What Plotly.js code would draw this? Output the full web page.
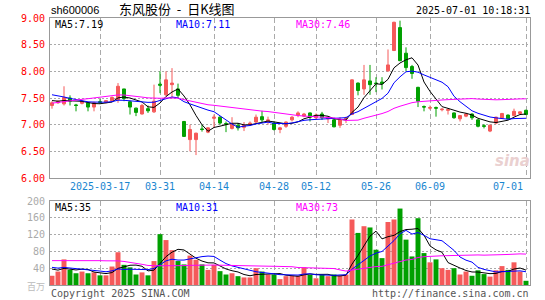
<!DOCTYPE html>
<html><head><meta charset="utf-8">
<script src="https://cdn.plot.ly/plotly-3.0.1.min.js"></script>
<style>html,body{margin:0;padding:0;background:#fff;}#chart{width:545px;height:300px;}</style>
</head><body><div id="chart"></div>
<script>
// ---- data ----
const dates = ['2025-03-05','2025-03-06','2025-03-07','2025-03-10','2025-03-11','2025-03-12','2025-03-13','2025-03-14','2025-03-17','2025-03-18',
'2025-03-19','2025-03-20','2025-03-21','2025-03-24','2025-03-25','2025-03-26','2025-03-27','2025-03-28','2025-03-31','2025-04-01',
'2025-04-02','2025-04-03','2025-04-07','2025-04-08','2025-04-09','2025-04-10','2025-04-11','2025-04-14','2025-04-15','2025-04-16',
'2025-04-17','2025-04-18','2025-04-21','2025-04-22','2025-04-23','2025-04-24','2025-04-25','2025-04-28','2025-04-29','2025-04-30',
'2025-05-06','2025-05-07','2025-05-08','2025-05-09','2025-05-12','2025-05-13','2025-05-14','2025-05-15','2025-05-16','2025-05-19',
'2025-05-20','2025-05-21','2025-05-22','2025-05-23','2025-05-26','2025-05-27','2025-05-28','2025-05-29','2025-05-30','2025-06-03',
'2025-06-04','2025-06-05','2025-06-06','2025-06-09','2025-06-10','2025-06-11','2025-06-12','2025-06-13','2025-06-16','2025-06-17',
'2025-06-18','2025-06-19','2025-06-20','2025-06-23','2025-06-24','2025-06-25','2025-06-26','2025-06-27','2025-06-30','2025-07-01'];

const openP = [7.36,7.41,7.39,7.50,7.37,7.40,7.41,7.33,7.43,7.42, 7.45,7.47,7.67,7.43,7.31,7.20,7.30,7.24,7.76,7.56,
 7.75,7.67,7.06,6.72,6.72,6.92,6.86,7.12,7.14,7.02, 6.93,6.99,6.95,7.00,7.05,7.15,7.06,7.03,6.91,6.97,
 7.09,7.18,7.16,7.22,7.13,7.20,7.11,7.09,6.99,7.11, 7.19,7.78,7.67,7.82,7.78,7.80,8.01,8.39,8.82,8.34,
 8.09,7.70,7.34,7.31,7.32,7.28,7.27,7.22,7.11,7.16, 7.20,7.09,6.98,6.88,7.03,7.12,7.18,7.17,7.21,7.27];
const highP = [7.44,7.45,7.72,7.55,7.39,7.45,7.42,7.43,7.48,7.46, 7.53,7.78,7.67,7.45,7.32,7.39,7.36,7.75,8.00,8.00,
 8.06,7.77,7.07,7.00,6.85,7.00,6.95,7.19,7.16,7.06, 7.14,7.03,7.05,7.06,7.19,7.26,7.15,7.06,6.96,7.06,
 7.16,7.25,7.22,7.23,7.21,7.24,7.15,7.13,7.14,7.15, 7.85,7.79,8.12,8.12,7.89,7.89,8.41,8.93,8.95,8.45,
 8.12,7.71,7.36,7.36,7.34,7.31,7.31,7.23,7.18,7.22, 7.21,7.10,7.01,7.00,7.15,7.22,7.19,7.30,7.25,7.28];
const lowP = [7.30,7.39,7.36,7.36,7.25,7.38,7.25,7.25,7.39,7.40, 7.44,7.41,7.44,7.19,7.16,7.19,7.22,7.22,7.59,7.53,
 7.50,7.50,6.77,6.50,6.43,6.87,6.84,6.94,7.00,6.86, 6.91,6.89,6.88,6.98,7.03,7.03,7.00,6.89,6.84,6.94,
 7.06,7.14,7.14,7.06,7.09,7.09,7.03,6.95,6.94,7.03, 7.18,7.55,7.56,7.56,7.61,7.66,7.99,8.38,8.19,8.00,
 7.86,7.33,7.25,7.28,7.15,7.25,7.19,7.11,7.06,7.14, 7.09,6.95,6.93,6.86,7.01,7.11,7.10,7.16,7.20,7.18];
const closeP = [7.41,7.44,7.51,7.44,7.36,7.44,7.33,7.41,7.42,7.45, 7.51,7.72,7.49,7.33,7.23,7.36,7.26,7.44,7.74,7.84,
 7.78,7.55,6.78,6.91,6.84,6.91,6.94,7.14,7.03,7.01, 7.01,6.94,6.99,7.03,7.14,7.09,7.09,6.91,6.94,7.05,
 7.14,7.22,7.20,7.14,7.18,7.13,7.14,6.96,7.09,7.12, 7.84,7.64,7.84,7.75,7.77,7.77,8.12,8.92,8.20,8.07,
 7.96,7.44,7.33,7.32,7.31,7.29,7.28,7.13,7.17,7.20, 7.13,6.97,6.97,6.99,7.14,7.21,7.11,7.25,7.24,7.19];
const volume = [22,32,61,36,28,32,28,30,23,23, 44,78,48,42,25,30,23,57,121,107,
 83,57,49,70,60,49,36,48,33,25, 28,21,18,18,40,32,25,25,14,21,
 22,22,42,24,16,24,21,25,22,25, 156,124,140,137,84,64,150,156,182,108,
 68,159,76,54,61,40,36,40,25,32, 22,35,26,20,35,45,36,54,32,10];
// estimated sessions before the window (only feed the moving averages)
const prevClose = [6.95,6.98,7.02,7.00,7.05,6.99,7.03,7.08,7.06,7.10,7.12,7.55,7.62,7.70,7.75,7.72,7.68,7.71,7.66,7.70,7.72,7.65,7.70,7.62,7.66,7.50,7.45,7.46,7.44];
const prevVolume = [30,36,32,38,35,31,37,33,34,34,92,88,100,95,108,104,90,112,100,91,50,44,48,42,46,45,40,43,40];

const tickDates = ['2025-03-17','2025-03-31','2025-04-14','2025-04-28','2025-05-12','2025-05-26','2025-06-09','2025-07-01'];
const tickLabels = ['2025-03-17','03-31','04-14','04-28','05-12','05-26','06-09','07-01'];
const priceTicks = [6.0,6.5,7.0,7.5,8.0,8.5,9.0];
const priceTickText = ['6.00','6.50','7.00','7.50','8.00','8.50','9.00'];
const volTicks = [40,80,120,160,200];
const volTickText = ['40','80','120','160','200'];
const priceMaText = ['MA5:7.19','MA10:7.11','MA30:7.46'];
const volMaText = ['MA5:35','MA10:31','MA30:73'];
const stockCode = 'sh600006';
const chartTitle = '东风股份\u00a0\u00a0-\u00a0\u00a0日K线图';
const stamp = '2025-07-01 10:18:31';

// ---- helpers ----
function movingAvg(hist, vals, n){
  const all = hist.concat(vals), off = hist.length;
  return vals.map((v,i)=>{
    const end = off+i+1, start = Math.max(0,end-n);
    let s=0; for(let k=start;k<end;k++) s+=all[k];
    return s/(end-start);
  });
}
const RED='#f55a5a', GREEN='#00a000';
const MONO='DejaVu Sans Mono';
const L=50,R=530,T=18,B=285;
const px=x=>(x-L)/(R-L), py=y=>(B-y)/(B-T);

const maColors=['#000000','#0000ff','#ff00ff'];
const maN=[5,10,30];
const traces=[];
traces.push({type:'candlestick',x:dates,open:openP,high:highP,low:lowP,close:closeP,xaxis:'x',yaxis:'y',
  increasing:{line:{color:RED,width:1},fillcolor:RED},
  decreasing:{line:{color:GREEN,width:1},fillcolor:GREEN},
  whiskerwidth:0,hoverinfo:'skip',showlegend:false});
maN.forEach((n,k)=>traces.push({type:'scatter',mode:'lines',x:dates,y:movingAvg(prevClose,closeP,n),
  xaxis:'x',yaxis:'y',line:{color:maColors[k],width:1},hoverinfo:'skip',showlegend:false}));
traces.push({type:'bar',x:dates,y:volume,xaxis:'x2',yaxis:'y2',
  marker:{color:closeP.map((c,i)=>c>=openP[i]?RED:GREEN),line:{width:0}},hoverinfo:'skip',showlegend:false});
maN.forEach((n,k)=>traces.push({type:'scatter',mode:'lines',x:dates,y:movingAvg(prevVolume,volume,n),
  xaxis:'x2',yaxis:'y2',line:{color:maColors[k],width:1},hoverinfo:'skip',showlegend:false}));

const axBase={showline:true,mirror:true,linecolor:'#999',linewidth:1,zeroline:false,fixedrange:true};
const xBase=Object.assign({},axBase,{type:'category',categoryorder:'array',categoryarray:dates,range:[-0.333,79.667],
  tickvals:tickDates,showticklabels:false,ticks:'',showgrid:true,gridcolor:'#aaa',gridwidth:1,griddash:'5px,3px'});

const ann=[];
function A(o){ann.push(Object.assign({showarrow:false,xref:'paper',yref:'paper',borderpad:0},o));}
tickDates.forEach((d,i)=>A({xref:'x',x:d,y:py(186.5),yanchor:'middle',
  xanchor:i===tickDates.length-1?'right':'center',xshift:i===tickDates.length-1?-2:0,
  text:tickLabels[i],font:{family:MONO,size:10,color:'#1a86d0'}}));
A({x:px(50),y:py(10),xanchor:'left',yanchor:'middle',text:stockCode,font:{family:'Liberation Sans',size:11,color:'#000'}});
A({x:px(177),y:py(9),xanchor:'center',yanchor:'middle',text:chartTitle,font:{family:'Noto Sans CJK SC',size:13,color:'#000'}});
A({x:px(531),y:py(11),xanchor:'right',yanchor:'middle',text:stamp,font:{family:MONO,size:10,color:'#000'}});
const maX=[54,175,295];
priceMaText.forEach((t,k)=>A({x:px(maX[k]),y:py(25),xanchor:'left',yanchor:'middle',text:t,font:{family:MONO,size:10,color:maColors[k]}}));
volMaText.forEach((t,k)=>A({x:px(maX[k]),y:py(207.5),xanchor:'left',yanchor:'middle',text:t,font:{family:MONO,size:10,color:maColors[k]}}));
A({x:px(50),y:py(293),xanchor:'left',yanchor:'middle',text:'Copyright 2025 SINA.COM',font:{family:MONO,size:10,color:'#555'}});
A({x:px(530),y:py(293),xanchor:'right',yanchor:'middle',text:'http://finance.sina.com.cn',font:{family:MONO,size:10,color:'#555'}});
A({x:px(46),y:py(286),xanchor:'right',yanchor:'middle',text:'百万',font:{family:'Noto Sans CJK SC',size:9,color:'#bbb'}});
A({x:px(512),y:py(161),xanchor:'center',yanchor:'middle',text:'<b><i>sina</i></b>',font:{family:'DejaVu Sans',size:15,color:'#ead0d0'}});

const layout={width:545,height:300,margin:{l:L,r:545-R,t:T,b:300-B,pad:0},
  paper_bgcolor:'#fff',plot_bgcolor:'#fff',showlegend:false,bargap:0.17,boxgap:0.3,
  xaxis:Object.assign({},xBase,{anchor:'y',rangeslider:{visible:false}}),
  xaxis2:Object.assign({},xBase,{anchor:'y2',matches:'x'}),
  yaxis:Object.assign({},axBase,{domain:[py(178),1],range:[6,9],tickvals:priceTicks,ticktext:priceTickText,
    ticks:'outside',ticklen:2,tickcolor:'rgba(0,0,0,0)',tickfont:{family:MONO,size:10,color:'#ff0000'},
    showgrid:true,gridcolor:'#aaa',griddash:'2px,2px'}),
  yaxis2:Object.assign({},axBase,{domain:[0,py(201)],range:[0,200],tickvals:volTicks,ticktext:volTickText,
    ticks:'outside',ticklen:2,tickcolor:'rgba(0,0,0,0)',tickfont:{family:MONO,size:10,color:'#aaa'},
    showgrid:true,gridcolor:'#aaa',griddash:'2px,2px'}),
  annotations:ann};
Plotly.newPlot('chart',traces,layout,{staticPlot:true,displayModeBar:false});
</script></body></html>
